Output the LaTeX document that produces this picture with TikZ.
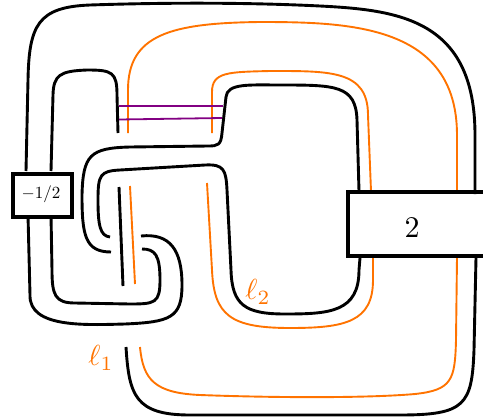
\documentclass[tikz,border=0pt]{standalone}
\usepackage{amsmath}
\definecolor{strandor}{RGB}{255,115,0}
\definecolor{bandpur}{RGB}{130,0,130}
\tikzset{
  blk/.style={draw=black,line width=2.9pt,line cap=butt,line join=round},
  org/.style={draw=strandor,line width=1.9pt,line cap=butt,line join=round},
  pur/.style={draw=bandpur,line width=1.8pt},
  boxline/.style={draw=black,line width=4pt,line join=miter},
  lab/.style={text=strandor,inner sep=0pt}
}
\begin{document}
\begin{tikzpicture}[x=1pt,y=-1pt]
\useasboundingbox (0,0) rectangle (483,416);
% outer black
\draw[blk] (26,171) -- (28,80) .. controls (29,25) and (38,7) .. (90,5) .. controls (180,2) and (260,3) .. (320,6)
  .. controls (400,10) and (475,20) .. (475,135) -- (475,194);
% outer orange
\draw[org] (128,133) -- (128,90) .. controls (128,35) and (170,23) .. (260,22) .. controls (350,22) and (457,25) .. (457,135) -- (457,191);
% inner orange top
\draw[org] (212,133) -- (212,92) .. controls (212,72) and (228,72) .. (270,71) .. controls (330,71) and (368,70) .. (368,115) -- (371,191);
% black top-right
\draw[blk] (359,191) -- (357,120) .. controls (356,85) and (335,85) .. (280,85) .. controls (250,85) and (227,83) .. (226,97)
  -- (222,133) .. controls (221,145) and (218,146) .. (208,146) -- (130,147)
  .. controls (90,148) and (83,155) .. (82,195) .. controls (82,235) and (85,252) .. (111,252);
% black second
\draw[blk] (110,237) .. controls (100,236) and (98,225) .. (98,200) .. controls (98,175) and (100,171) .. (120,170)
  -- (205,165) .. controls (224,164) and (226,170) .. (227,190) -- (231,270)
  .. controls (232,305) and (245,314) .. (285,314) .. controls (330,314) and (359,312) .. (359,270) -- (360,258);
% orange second
\draw[org] (207,183) -- (212,270) .. controls (214,315) and (230,328) .. (290,328) .. controls (345,328) and (373,322) .. (373,280) -- (373,258);
% bottom black
\draw[blk] (126,347) .. controls (129,395) and (135,415) .. (190,415) -- (400,415) .. controls (465,415) and (472,405) .. (474,350) -- (476,258);
% bottom orange
\draw[org] (140,347) .. controls (143,380) and (155,393) .. (200,395) .. controls (280,398) and (370,398) .. (415,394)
  .. controls (452,390) and (455,380) .. (456,340) -- (457,258);
% left loops
\draw[blk] (51,171) -- (53,95) .. controls (53.5,75) and (60,71) .. (87,70) .. controls (112,70) and (117,72) .. (117,95) -- (118,133);
\draw[blk] (141,236) .. controls (170,233) and (182,250) .. (182,285) .. controls (182,318) and (170,322) .. (125,324)
  .. controls (85,325) and (29,328) .. (30,295) -- (28,215);
\draw[blk] (142,249) .. controls (155,249) and (160,255) .. (160,280) .. controls (160,303) and (155,304) .. (130,304)
  -- (75,303) .. controls (55,303) and (52,295) .. (52,270) -- (51,215);
% clasp strands
\draw[blk] (119,187) -- (123,286);
\draw[org] (130,186) -- (135,284);
% band
\draw[pur] (119,106) -- (223,106);
\draw[pur] (119,119.5) -- (222,118);
% boxes
\node[boxline,fill=white,minimum width=59pt,minimum height=43pt,inner sep=0pt,anchor=north west] (halfbox) at (11,172) {};
\node[inner sep=0pt] (halflabel) at (41,194) {\scalebox{1.7}{$-1/2$}};
\draw[boxline] (483,192) -- (348,192) -- (348,256) -- (483,256);
\node[inner sep=0pt] (twolabel) at (412,228) {\scalebox{3}{$2$}};
\node[lab] (lone) at (101,358) {\scalebox{2.9}{$\ell_1$}};
\node[lab] (ltwo) at (258,292) {\scalebox{2.9}{$\ell_2$}};
\end{tikzpicture}
\end{document}
